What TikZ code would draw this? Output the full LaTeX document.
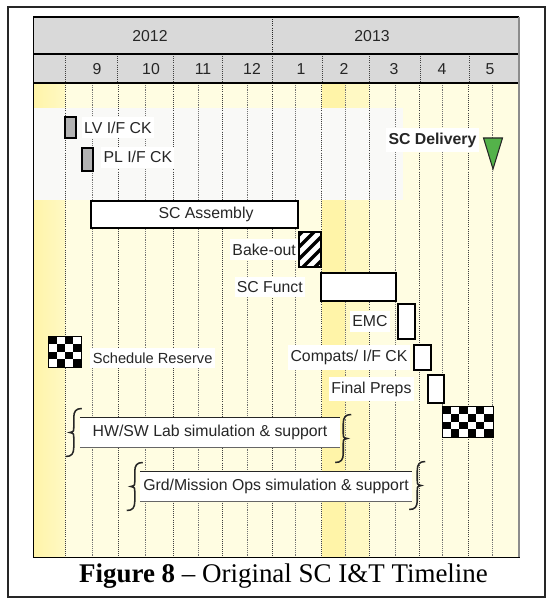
\documentclass[tikz,border=0pt]{standalone}
\usepackage{fontspec}
\setmainfont{Liberation Sans}
\newfontfamily\capfont{Liberation Serif}
\usepackage{xcolor}
\usepackage{tikz}
\usetikzlibrary{positioning,calc}

\definecolor{hdrgray}{RGB}{217,217,217}
\definecolor{paleyel}{RGB}{255,253,226}
\definecolor{midyel}{RGB}{255,249,196}
\definecolor{hiyel}{RGB}{255,244,168}
\definecolor{bandwh}{RGB}{249,249,247}
\definecolor{barfill}{RGB}{178,178,178}
\definecolor{dlvgreen}{RGB}{84,178,74}
\newcommand{\lblsize}{\fontsize{13.5}{16}\selectfont}

\begin{document}
\begin{tikzpicture}[
    x=0.03cm, y=-0.03cm,
    hdr/.style={font=\lblsize, text=black!85, inner sep=0pt},
    bar/.style={rectangle, draw, fill=barfill, line width=1.1pt, inner sep=0pt},
    task/.style={rectangle, draw, fill=white, line width=1.1pt, inner sep=0pt},
    chk/.style={rectangle, fill=white, inner sep=0pt},
    lbl/.style={fill=white, inner xsep=2pt, inner ysep=4pt, font=\lblsize, text=black!85},
    banner/.style={rectangle, fill=white, inner sep=0pt, font=\lblsize, text=black!85},
    monline/.style={densely dotted, line width=0.8pt, black!75},
    halfline/.style={densely dotted, line width=0.6pt, black!55},
    scroll/.pic={
      \draw[line width=1.3pt, black!85] (8,-24) .. controls (2,-24) and (0,-21) .. (0,-15)
        -- (0,-5) .. controls (0,-1) .. (-4,0) .. controls (0,1) .. (0,5)
        -- (0,15) .. controls (0,21) and (-2,24) .. (-8,24);
    }
]
\useasboundingbox (0,0) rectangle (552,601);
\fill[white] (0,0) rectangle (552,601);
\draw[line width=1.4pt, black!85] (8,7) rectangle (545,597);

% Chart body background
\fill[paleyel] (33,83) rectangle (519,557);
\shade[left color=hiyel, right color=midyel] (33,83) rectangle (65,557);
\fill[hiyel] (322,83) rectangle (345,557);
\fill[midyel] (345,83) rectangle (369,557);
\fill[bandwh] (33,108) rectangle (403,200);

% Half-month grid lines
\foreach \x in {92,145,198,247,295,345,395,442,492}
  \draw[halfline] (\x,83) -- (\x,557);
\foreach \x in {65,118,173,222,272,321,369,419,468}
  \draw[monline] (\x,83) -- (\x,557);

% Header: years and months
\fill[hdrgray] (33,17) rectangle (519,83);
\draw[monline, black!85] (272,17) -- (272,54);
\foreach \x in {65,117,173,222,272,322,369,420,469}
  \draw[monline] (\x,54) -- (\x,83);
\draw[line width=1.8pt] (33,17) -- (519,17);
\draw[line width=2pt] (33,54) -- (519,54);
\draw[line width=2pt] (33,83) -- (519,83);
\node[hdr] (y2012) at (150,36) {2012};
\node[hdr] (y2013) at (372,36) {2013};
\foreach \x/\m in {97/9,151/10,203/11,252/12,301/1,344/2,394/3,442/4,490/5}
  \node[hdr] (mon\m) at (\x,69) {\m};

% Interface checks
\node[bar, minimum width=0.33cm, minimum height=0.63cm] (lv) at (70.5,127.5) {};
\node[lbl, right=0.15cm of lv] (lvlab) {LV I/F CK};
\node[bar, minimum width=0.33cm, minimum height=0.69cm] (pl) at (87.5,159.5) {};
\node[lbl, right=0.22cm of pl, yshift=0.07cm] (pllab) {PL I/F CK};

% Delivery milestone
\coordinate (dlv) at (493,138);
\filldraw[fill=dlvgreen, draw=black!85, line width=0.9pt]
  ($(dlv)+(-9.5,0)$) -- ($(dlv)+(9.5,0)$) -- ($(dlv)+(0,31)$) -- cycle;
\node[lbl, font=\lblsize\bfseries, left=0.42cm of dlv, yshift=-0.06cm] (dlvlab) {SC Delivery};

% I&T flow
\node[task, minimum width=6.21cm, minimum height=0.81cm] (asm) at (194.5,214.5) {};
\node[hdr] (asmlab) at ($(asm.center)+(11.5,0)$) {SC Assembly};

\node[task, minimum width=0.66cm, minimum height=1.05cm] (bake) at (310,249.5) {};
\begin{scope}
  \clip (bake.north west) rectangle (bake.south east);
  \foreach \k in {-48,-36,...,24}
    \draw[line width=3pt] ($(bake.south west)+(\k,4)$) -- ++(48,-48);
\end{scope}
\draw[line width=1.1pt] (bake.north west) rectangle (bake.south east);
\node[lbl, left=0pt of bake] (bakelab) {Bake-out};

\node[task, minimum width=2.25cm, minimum height=0.84cm] (funct) at (358.5,287) {};
\node[lbl, left=0.45cm of funct] (functlab) {SC Funct};
\node[task, minimum width=0.51cm, minimum height=1.05cm] (emc) at (406.5,321.5) {};
\node[lbl, left=0.22cm of emc] (emclab) {EMC};
\node[task, minimum width=0.51cm, minimum height=0.75cm] (compat) at (422.5,357.5) {};
\node[lbl, left=0.1cm of compat] (compatlab) {Compats/ I/F CK};
\node[task, minimum width=0.48cm, minimum height=0.84cm] (preps) at (436,389) {};
\node[lbl, left=0.4cm of preps] (prepslab) {Final Preps};

% Schedule reserve blocks
\node[chk, minimum width=0.96cm, minimum height=0.9cm] (rsv) at (65,352) {};
\foreach \i in {0,...,3} \foreach \j in {0,...,3} {
  \ifodd\numexpr\i+\j\relax\else
    \fill ($(rsv.north west)+(\i*8,\j*7.5)$) rectangle ++(8,7.5);
  \fi}
\draw[line width=1.1pt] (rsv.north west) rectangle (rsv.south east);
\node[lbl, font=\fontsize{12.5}{15}\selectfont, right=0.27cm of rsv, yshift=-0.18cm] (rsvlab) {Schedule Reserve};

\node[chk, minimum width=1.5cm, minimum height=0.9cm] (rsvend) at (468,422) {};
\foreach \i in {0,...,5} \foreach \j in {0,...,3} {
  \ifodd\numexpr\i+\j\relax\else
    \fill ($(rsvend.north west)+(\i*8.333,\j*7.5)$) rectangle ++(8.333,7.5);
  \fi}
\draw[line width=1.1pt] (rsvend.north west) rectangle (rsvend.south east);

% Support banners
\node[banner, minimum width=7.8cm, minimum height=0.87cm] (hwsw) at (210,432.5) {HW/SW Lab simulation \& support};
\draw[line width=1pt, black!85] (hwsw.north west) -- (hwsw.north east);
\draw[line width=1pt, black!60] (hwsw.south west) -- (hwsw.south east);
\pic at ($(hwsw.west)+(-6,0)$) {scroll};
\pic[rotate=180] at ($(hwsw.east)+(3,6)$) {scroll};

\node[banner, minimum width=8.16cm, minimum height=0.87cm] (grd) at (276,486.5) {Grd/Mission Ops simulation \& support};
\draw[line width=1pt, black!85] (grd.north west) -- (grd.north east);
\draw[line width=1pt, black!60] (grd.south west) -- (grd.south east);
\pic at ($(grd.west)+(-5,0)$) {scroll};
\pic[rotate=180] at ($(grd.east)+(5,-1)$) {scroll};

% Chart border
\draw[line width=0.8pt] (33,17) -- (33,557) -- (520,557);
\draw[line width=2.5pt, black!45] (519,17) -- (519,557);

% Caption
\node[font=\capfont\fontsize{23}{27}\selectfont, anchor=base] (cap) at (283.5,582)
  {\textbf{Figure 8} – Original SC I\&T Timeline};
\end{tikzpicture}
\end{document}
